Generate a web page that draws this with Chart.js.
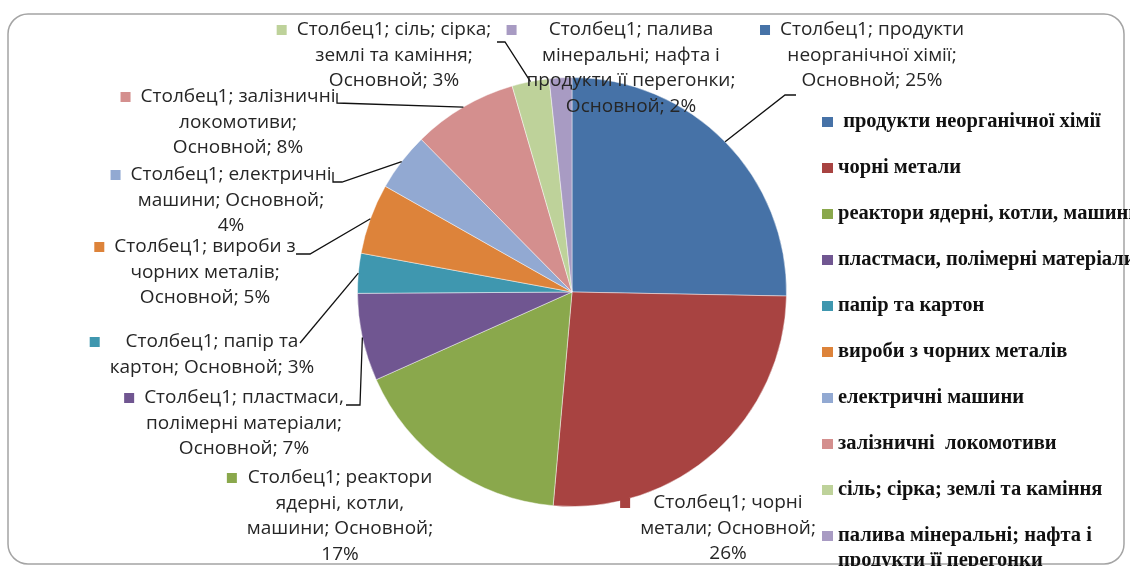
<!DOCTYPE html>
<html>
<head>
<meta charset="utf-8">
<script src="https://cdn.jsdelivr.net/npm/chart.js@4/dist/chart.umd.min.js"></script>
<style>
  body { margin: 0; background: #fff; }
  #wrap { position: relative; width: 1130px; height: 566px; }
</style>
</head>
<body>
<div id="wrap"><canvas id="pieChart"></canvas></div>
<script>
const seriesName = "Столбец1";
const seriesKey = "Основной";

const categories = [
  "продукти неорганічної хімії",
  "чорні метали",
  "реактори ядерні, котли, машини",
  "пластмаси, полімерні матеріали",
  "папір та картон",
  "вироби з чорних металів",
  "електричні машини",
  "залізничні локомотиви",
  "сіль; сірка; землі та каміння",
  "палива мінеральні; нафта і продукти її перегонки"
];

const legendLabels = [
  " продукти неорганічної хімії",
  "чорні метали",
  "реактори ядерні, котли, машини",
  "пластмаси, полімерні матеріали",
  "папір та картон",
  "вироби з чорних металів",
  "електричні машини",
  "залізничні  локомотиви",
  "сіль; сірка; землі та каміння",
  "палива мінеральні; нафта і продукти її перегонки"
];

// share of each group, %
const shares = [25.3, 26.1, 16.9, 6.6, 3.0, 5.3, 4.4, 7.9, 2.8, 1.7];

const colors = ["#4672A7", "#A84341", "#8AA84C", "#705691", "#3F97AF",
                "#DD833A", "#92A9D2", "#D48F8E", "#BED29A", "#A89BC3"];

// where Excel put each data label (center x, first line y), words per line, leader bends
const labelLayout = [
  { x: 872, y: 30, words: [2, 2, 2], leader: [[796, 95], [785, 95]] },
  { x: 728, y: 503, words: [2, 2, 1] },
  { x: 340, y: 478, words: [2, 2, 2, 1] },
  { x: 244, y: 398, words: [2, 2, 2], leader: [[346, 405], [360, 405]] },
  { x: 212, y: 342, words: [3, 3], leader: [[300, 343]] },
  { x: 205, y: 247, words: [3, 2, 2], leader: [[296, 254], [310, 254]] },
  { x: 231, y: 175, words: [2, 2, 1], leader: [[333, 172], [333, 182], [342, 182]] },
  { x: 238, y: 97, words: [2, 1, 2], leader: [[337, 93], [337, 103]] },
  { x: 394, y: 30, words: [3, 3, 2], leader: [[497, 42], [505, 42]] },
  { x: 631, y: 30, words: [2, 3, 3, 2] }
];

const labelFont = "19px 'Open Sans'";
const legendFont = "bold 20.5px 'Liberation Serif'";

function roundedFrame(ctx, x, y, w, h, r) {
  ctx.beginPath();
  ctx.moveTo(x + r, y);
  ctx.arcTo(x + w, y, x + w, y + h, r);
  ctx.arcTo(x + w, y + h, x, y + h, r);
  ctx.arcTo(x, y + h, x, y, r);
  ctx.arcTo(x, y, x + w, y, r);
  ctx.closePath();
  ctx.stroke();
}

const framePlugin = {
  id: "frame",
  beforeDraw(chart) {
    const ctx = chart.ctx;
    ctx.save();
    ctx.fillStyle = "#fff";
    ctx.fillRect(0, 0, chart.width, chart.height);
    ctx.strokeStyle = "#a4a4a4";
    ctx.lineWidth = 1.5;
    roundedFrame(ctx, 8, 14, 1116, 550, 20);
    ctx.restore();
  }
};

const labelPlugin = {
  id: "excelLabels",
  afterDatasetsDraw(chart) {
    const ctx = chart.ctx;
    const meta = chart.getDatasetMeta(0);
    const total = shares.reduce((acc, curr) => acc + curr, 0);
    ctx.save();

    // leader lines, ending in the middle of the slice edge
    ctx.strokeStyle = "#111";
    ctx.lineWidth = 1.3;
    labelLayout.forEach((lay, i) => {
      if (!lay.leader) return;
      const arc = meta.data[i].getProps(["x", "y", "startAngle", "endAngle", "outerRadius"], true);
      const mid = (arc.startAngle + arc.endAngle) / 2;
      ctx.beginPath();
      ctx.moveTo(lay.leader[0][0], lay.leader[0][1]);
      lay.leader.slice(1).forEach(p => ctx.lineTo(p[0], p[1]));
      ctx.lineTo(arc.x + Math.cos(mid) * arc.outerRadius, arc.y + Math.sin(mid) * arc.outerRadius);
      ctx.stroke();
    });

    // label text
    ctx.font = labelFont;
    ctx.textAlign = "center";
    ctx.textBaseline = "middle";
    labelLayout.forEach((lay, i) => {
      const pct = Math.round(shares[i] / total * 100);
      const words = `${seriesName}; ${categories[i]}; ${seriesKey}; ${pct}%`.split(" ");
      const lines = [];
      let k = 0;
      lay.words.forEach(n => { lines.push(words.slice(k, k + n).join(" ")); k += n; });
      const maxW = Math.max(...lines.map(l => ctx.measureText(l).width));
      ctx.fillStyle = colors[i];
      ctx.fillRect(lay.x - maxW / 2 - 20, lay.y - 5, 10, 10);
      ctx.fillStyle = "#262626";
      lines.forEach((l, j) => ctx.fillText(l, lay.x, lay.y + j * 25.5));
    });

    // legend on the right
    ctx.font = legendFont;
    ctx.textAlign = "left";
    legendLabels.forEach((txt, i) => {
      const y = 122 + i * 46;
      ctx.fillStyle = colors[i];
      ctx.fillRect(822, y - 5, 11, 10);
      ctx.fillStyle = "#111";
      if (ctx.measureText(txt).width <= 330) {
        ctx.fillText(txt, 838, y);
        return;
      }
      let line = "";
      let ly = y;
      txt.split(" ").forEach(w => {
        const test = line ? line + " " + w : w;
        if (ctx.measureText(test).width > 330 && line) {
          ctx.fillText(line, 838, ly);
          line = w;
          ly += 25;
        } else {
          line = test;
        }
      });
      ctx.fillText(line, 838, ly);
    });
    ctx.restore();
  }
};

new Chart(document.getElementById("pieChart"), {
  type: "pie",
  data: {
    labels: legendLabels,
    datasets: [{
      label: seriesName,
      data: shares,
      backgroundColor: colors,
      borderColor: "rgba(255,255,255,0.45)",
      borderWidth: 1
    }]
  },
  options: {
    responsive: true,
    maintainAspectRatio: false,
    animation: false,
    layout: { padding: { left: 357, right: 343, top: 77, bottom: 59 } },
    plugins: {
      legend: { display: false },
      tooltip: { enabled: false }
    }
  },
  plugins: [framePlugin, labelPlugin]
});
</script>
</body>
</html>
